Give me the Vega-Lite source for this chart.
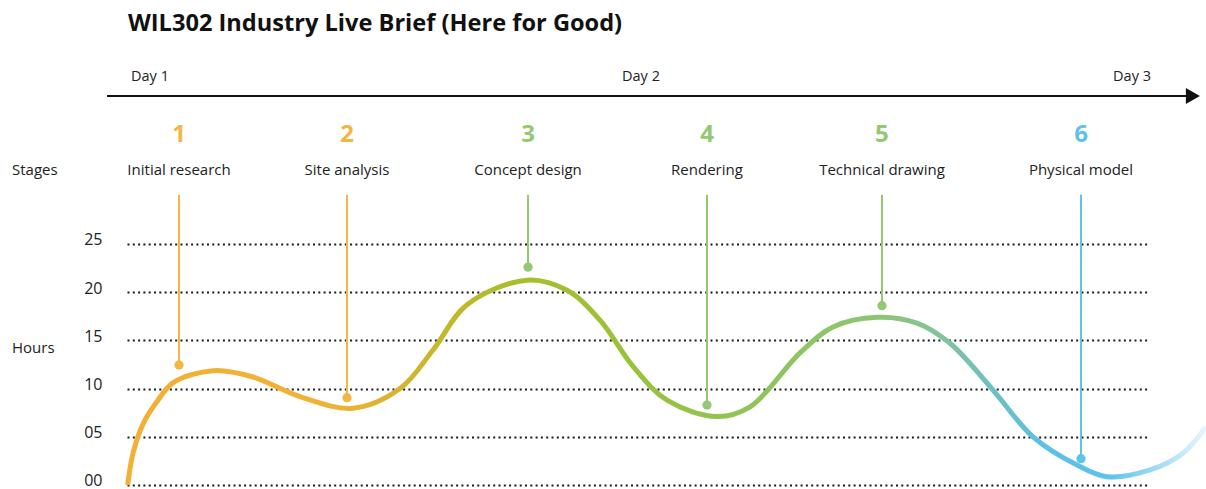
{
  "$schema": "https://vega.github.io/schema/vega-lite/v6.json",
  "width": 1023,
  "height": 489,
  "padding": {"left": 127, "right": 56, "top": 0, "bottom": 0},
  "autosize": {"type": "none"},
  "background": "#ffffff",
  "config": {"view": {"stroke": null}, "font": "Open Sans"},
  "datasets": {
    "curve": [
      {"d": 0.9546, "h": 0}, {"d": 0.9654, "h": 3.3}, {"d": 0.9864, "h": 6.4}, {"d": 1.0136, "h": 8.6},
      {"d": 1.0468, "h": 10.6}, {"d": 1.1283, "h": 11.86}, {"d": 1.2098, "h": 11.2}, {"d": 1.3055, "h": 9.16},
      {"d": 1.4134, "h": 7.96}, {"d": 1.5092, "h": 10.0}, {"d": 1.5764, "h": 14.0}, {"d": 1.6456, "h": 18.7},
      {"d": 1.7678, "h": 21.25}, {"d": 1.8493, "h": 20.2}, {"d": 1.9165, "h": 17.1}, {"d": 1.9837, "h": 12.3},
      {"d": 2.053, "h": 8.8}, {"d": 2.1548, "h": 7.1}, {"d": 2.222, "h": 8.1}, {"d": 2.3238, "h": 13.7},
      {"d": 2.391, "h": 16.4}, {"d": 2.4807, "h": 17.4}, {"d": 2.5621, "h": 16.8}, {"d": 2.6293, "h": 14.7},
      {"d": 2.7169, "h": 9.85}, {"d": 2.7984, "h": 5.0}, {"d": 2.888, "h": 2.07}, {"d": 2.9491, "h": 0.86},
      {"d": 3.0367, "h": 1.56}, {"d": 3.1039, "h": 3.3}, {"d": 3.1507, "h": 6.05}
    ],
    "stages": [
      {"n": 1, "name": "Initial research", "d": 1.0591, "h": 12.45},
      {"n": 2, "name": "Site analysis", "d": 1.4012, "h": 9.06},
      {"n": 3, "name": "Concept design", "d": 1.7699, "h": 22.6},
      {"n": 4, "name": "Rendering", "d": 2.1344, "h": 8.3},
      {"n": 5, "name": "Technical drawing", "d": 2.4908, "h": 18.6},
      {"n": 6, "name": "Physical model", "d": 2.8961, "h": 2.73}
    ],
    "days": [{"day": "Day 1", "d": 1}, {"day": "Day 2", "d": 2}, {"day": "Day 3", "d": 3}],
    "one": [{"k": 1}]
  },
  "layer": [
    {
      "data": {"name": "stages"},
      "mark": {"type": "rule", "strokeWidth": 2},
      "encoding": {
        "x": {"field": "d", "type": "quantitative", "scale": {"domain": [0.95316, 3.03666], "nice": false, "zero": false}, "axis": null},
        "y": {"field": "h", "type": "quantitative",
          "scale": {"domain": [-0.415, 50.31], "nice": false, "zero": false},
          "axis": {"values": [0, 5, 10, 15, 20, 25], "format": "02d", "title": null, "domain": false, "ticks": false,
            "grid": true, "gridDash": [2, 3.3], "gridColor": "#1a1a1a", "gridWidth": 2, "gridOpacity": 1,
            "labelFontSize": 16, "labelColor": "#222", "labelPadding": 25, "labelOffset": -4, "labelFont": "Open Sans"}},
        "y2": {"datum": 30.1},
        "color": {"field": "n", "type": "ordinal", "legend": null,
          "scale": {"domain": [1, 2, 3, 4, 5, 6], "range": ["#F4B643", "#F4B643", "#95C872", "#95C872", "#95C872", "#5DC3EC"]}}
      }
    },
    {
      "data": {"name": "curve"},
      "mark": {"type": "line", "interpolate": "catmull-rom", "strokeWidth": 5, "strokeCap": "butt", "clip": false,
        "stroke": {"gradient": "linear", "x1": 0, "x2": 1, "y1": 0, "y2": 0, "stops": [
          {"offset": 0, "color": "#F2B035"},
          {"offset": 0.188, "color": "#F0B236"},
          {"offset": 0.28, "color": "#C8B72C"},
          {"offset": 0.364, "color": "#A8BE2C"},
          {"offset": 0.475, "color": "#98C23C"},
          {"offset": 0.624, "color": "#8EC564"},
          {"offset": 0.698, "color": "#8DC572"},
          {"offset": 0.753, "color": "#85C39A"},
          {"offset": 0.8, "color": "#6DC0C2"},
          {"offset": 0.846, "color": "#5CC0E2"},
          {"offset": 0.911, "color": "#5EC3EC"},
          {"offset": 1, "color": "#E8F5FC"}
        ]}},
      "encoding": {
        "x": {"field": "d", "type": "quantitative"},
        "y": {"field": "h", "type": "quantitative"}
      }
    },
    {
      "data": {"name": "stages"},
      "mark": {"type": "point", "filled": true, "shape": "circle", "size": 85, "opacity": 1},
      "encoding": {
        "x": {"field": "d", "type": "quantitative"},
        "y": {"field": "h", "type": "quantitative"},
        "color": {"field": "n", "type": "ordinal", "legend": null}
      }
    },
    {
      "data": {"name": "stages"},
      "mark": {"type": "text", "align": "center", "baseline": "middle", "fontSize": 24, "fontWeight": "bold"},
      "encoding": {
        "x": {"field": "d", "type": "quantitative"},
        "y": {"datum": 36.3, "type": "quantitative"},
        "text": {"field": "n", "type": "nominal"},
        "color": {"field": "n", "type": "ordinal", "legend": null}
      }
    },
    {
      "data": {"name": "stages"},
      "mark": {"type": "text", "align": "center", "baseline": "middle", "fontSize": 15, "color": "#222"},
      "encoding": {
        "x": {"field": "d", "type": "quantitative"},
        "y": {"datum": 32.68, "type": "quantitative"},
        "text": {"field": "name", "type": "nominal"}
      }
    },
    {
      "data": {"name": "one"},
      "mark": {"type": "rule", "stroke": "#111", "strokeWidth": 2.2},
      "encoding": {
        "x": {"datum": 0.9124, "type": "quantitative"},
        "x2": {"datum": 3.12},
        "y": {"datum": 40.35, "type": "quantitative"}
      }
    },
    {
      "data": {"name": "one"},
      "mark": {"type": "point", "shape": "triangle-right", "filled": true, "color": "#111", "size": 260, "opacity": 1},
      "encoding": {
        "x": {"datum": 3.124, "type": "quantitative"},
        "y": {"datum": 40.35, "type": "quantitative"}
      }
    },
    {
      "data": {"name": "days"},
      "mark": {"type": "text", "align": "center", "baseline": "middle", "fontSize": 14.5, "color": "#222"},
      "encoding": {
        "x": {"field": "d", "type": "quantitative"},
        "y": {"datum": 42.35, "type": "quantitative"},
        "text": {"field": "day", "type": "nominal"}
      }
    },
    {
      "data": {"name": "one"},
      "mark": {"type": "text", "align": "left", "baseline": "middle", "fontSize": 15, "color": "#222", "text": "Stages"},
      "encoding": {
        "x": {"datum": 0.7189, "type": "quantitative"},
        "y": {"datum": 32.68, "type": "quantitative"}
      }
    },
    {
      "data": {"name": "one"},
      "mark": {"type": "text", "align": "left", "baseline": "middle", "fontSize": 15, "color": "#222", "text": "Hours"},
      "encoding": {
        "x": {"datum": 0.7189, "type": "quantitative"},
        "y": {"datum": 14.2, "type": "quantitative"}
      }
    },
    {
      "data": {"name": "one"},
      "mark": {"type": "text", "align": "left", "baseline": "middle", "fontSize": 23.6, "fontWeight": "bold", "color": "#111", "text": "WIL302 Industry Live Brief (Here for Good)"},
      "encoding": {
        "x": {"datum": 0.9552, "type": "quantitative"},
        "y": {"datum": 47.82, "type": "quantitative"}
      }
    }
  ]
}
